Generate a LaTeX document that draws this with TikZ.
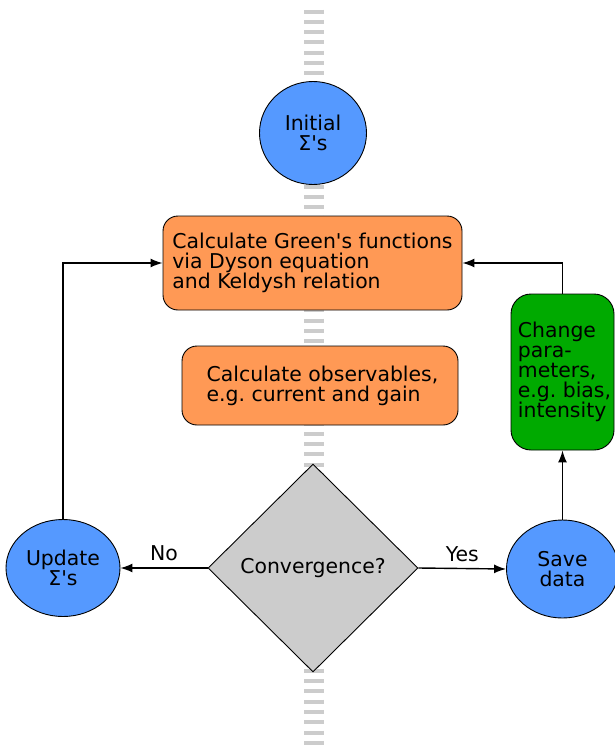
\documentclass[tikz,border=0pt]{standalone}
\usepackage{fontspec}
\setmainfont{DejaVu Sans}
\usetikzlibrary{arrows.meta,shapes.geometric}
\definecolor{selfblue}{HTML}{5599FF}
\definecolor{calcorange}{HTML}{FF9955}
\definecolor{paramgreen}{HTML}{00AA00}
\definecolor{spinegray}{HTML}{CCCCCC}
\newcommand{\apos}{\textquotesingle}

\begin{document}
\frenchspacing
\begin{tikzpicture}[x=1pt, y=-1pt,
    every node/.style={font=\fontsize{20.4pt}{20pt}\selectfont},
    sigma/.style={ellipse, draw, line width=0.9pt, fill=selfblue, inner sep=0pt, align=center},
    calc/.style={rectangle, rounded corners=15pt, draw, line width=0.9pt, fill=calcorange, align=left},
    flow/.style={-{Latex[length=12pt,width=9pt]}, line width=1.4pt}]
  \useasboundingbox (0,0) rectangle (615,753);
  % Axe de fond
  \draw[spinegray, line width=20pt, dash pattern=on 4pt off 6.3pt] (314,9.5) -- (314,749);
  % Boucle auto-coherente
  \node[sigma, minimum width=107pt, minimum height=103pt] (init) at (313,133) {Initial\\Σ\apos s};
  \node[calc, minimum width=299pt, minimum height=94pt] (green) at (312.5,263)
     {Calculate Green\apos s functions\\via Dyson equation\\and Keldysh relation};
  \node[calc, minimum width=276pt, minimum height=79pt] (obs) at (320,385.5)
     {\hspace*{5pt}Calculate observables,\\\hspace*{5pt}e.g. current and gain};
  \node[diamond, draw, line width=0.9pt, fill=spinegray, inner sep=0pt,
     minimum width=210pt, minimum height=208pt] (conv) at (313,568) {Convergence?};
  \node[sigma, minimum width=114pt, minimum height=97pt] (upd) at (63,568) {Update\\Σ\apos s};
  \node[sigma, minimum width=112pt, minimum height=98pt] (save) at (562.5,569) {Save\\data};
  \node[calc, rounded corners=20pt, fill=paramgreen, minimum width=103pt, minimum height=156pt,
     inner xsep=0pt] (param) at (562.5,372)
     {\hspace*{4pt}Change\\\hspace*{4pt}para-\\\hspace*{4pt}meters,\\\hspace*{4pt}e.g. bias,\\\hspace*{4pt}intensity};
  % Fleches
  \draw[flow] (conv.west) -- node[above=3pt] {No} (upd.east);
  \draw[flow] (conv.east) -- node[above=3pt] {Yes} (save.west);
  \draw[flow] (upd.north) |- (green.west);
  \draw[flow] (save.north) -- (param.south);
  \draw[flow] (param.north) |- (green.east);
\end{tikzpicture}
\end{document}
